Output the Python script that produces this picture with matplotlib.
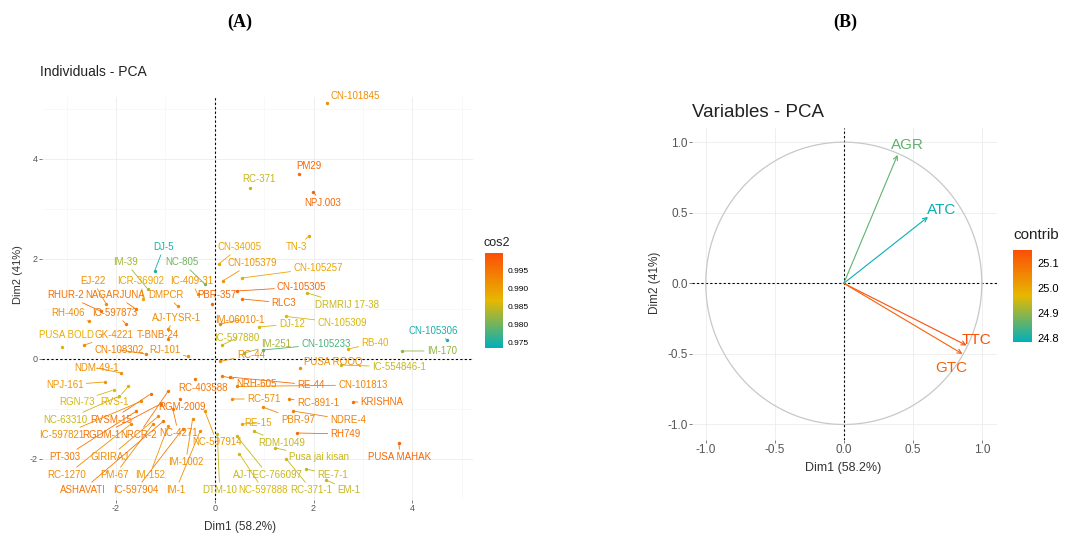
import numpy as np
import matplotlib
matplotlib.use("Agg")
import matplotlib.pyplot as plt
from matplotlib.colors import LinearSegmentedColormap, Normalize
import matplotlib.cm as cm

plt.rcParams["font.family"] = ["Liberation Sans", "DejaVu Sans"]
plt.rcParams["axes.unicode_minus"] = False

# -----------------------------
# Panel A data: genotype scores on Dim1 / Dim2 with cos2
# -----------------------------
geno = ["CN-101845", "PM29", "RC-371", "NPJ.003", "TN-3", "CN-34005", "DJ-5", "IM-39",
        "NC-805", "CN-105379", "CN-105257", "CN-105305", "RLC3", "DRMRIJ 17-38", "EJ-22",
        "ICR-36902", "IC-409-31", "RHUR-2", "NAGARJUNA", "DMPCR", "PBR-357", "RH-406",
        "IC-597873", "AJ-TYSR-1", "IM-06010-1", "DJ-12", "CN-105309", "PUSA BOLD", "GK-4221",
        "T-BNB-24", "IC-597880", "IM-251", "CN-105233", "RB-40", "CN-105306", "IM-170",
        "CN-108302", "RJ-101", "NDM-49-1", "RC-403588", "NPJ-161", "RGN-73", "RVS-1",
        "NC-63310", "RVSM-15", "RGM-2009", "IC-597821", "RGDM-1", "NRCR-2", "NC-4271",
        "NC-597914", "PT-303", "GIRIRAJ", "IM-1002", "RC-1270", "PM-67", "IM-152",
        "ASHAVATI", "IC-597904", "IM-1", "DTM-10", "NC-597888", "RC-371-1", "EM-1",
        "AJ-TEC-766097", "RE-7-1", "RC-44", "NRH-605", "RE-44", "CN-101813", "PUSA ROOQ",
        "IC-554846-1", "RC-571", "RC-891-1", "KRISHNA", "PBR-97", "NDRE-4", "RH749",
        "RE-15", "RDM-1049", "Pusa jai kisan", "PUSA MAHAK"]
dim1 = [2.27, 1.70, 0.71, 1.99, 1.91, 0.08, -1.22, -1.36,
        -0.20, 0.16, 0.55, 0.45, 0.55, 1.87, -2.20,
        -1.45, -0.35, -2.30, -1.60, -0.75, -0.05, -2.55,
        -1.80, -0.95, 0.10, 0.89, 1.45, -3.10, -2.64,
        -0.95, 0.15, 0.60, 0.97, 2.70, 4.71, 3.80,
        -1.40, -0.55, -1.90, -0.40, -2.23, -2.05, -1.75,
        -1.95, -1.30, -0.70, -1.50, -1.10, -0.95, -0.85,
        -0.20, -1.60, -1.15, -0.45, -1.70, -1.25, -0.95,
        -1.05, -0.65, -0.30, 0.05, 0.50, 1.45, 2.25,
        0.45, 1.85, 0.10, 0.14, 0.30, 0.45, 1.72,
        2.55, 0.35, 1.50, 2.80, 0.97, 1.58, 1.66,
        0.55, 0.80, 1.22, 3.73]
dim2 = [5.12, 3.70, 3.42, 3.34, 2.46, 1.90, 1.76, 1.40,
        1.50, 1.56, 1.62, 1.36, 1.20, 1.32, 1.10,
        1.20, 1.30, 0.95, 1.00, 1.05, 1.10, 0.75,
        0.70, 0.60, 0.70, 0.64, 0.85, 0.24, 0.28,
        0.40, 0.28, 0.12, 0.18, 0.20, 0.38, 0.16,
        0.10, 0.05, -0.28, -0.40, -0.46, -0.62, -0.55,
        -0.75, -0.70, -0.80, -0.85, -0.90, -0.65, -1.00,
        -1.05, -1.05, -1.15, -1.20, -1.30, -1.30, -1.35,
        -1.25, -1.40, -1.45, -1.50, -1.90, -2.00, -2.42,
        -1.55, -2.20, -0.05, -0.34, -0.36, -0.55, -0.18,
        -0.12, -0.80, -0.80, -0.86, -0.96, -1.04, -1.48,
        -1.30, -1.45, -1.78, -1.68]
cos2 = [0.992, 0.997, 0.985, 0.997, 0.989, 0.989, 0.975, 0.983,
        0.980, 0.991, 0.989, 0.997, 0.996, 0.985, 0.992,
        0.989, 0.991, 0.996, 0.995, 0.992, 0.997, 0.992,
        0.995, 0.992, 0.993, 0.986, 0.986, 0.988, 0.992,
        0.994, 0.985, 0.983, 0.978, 0.988, 0.975, 0.982,
        0.994, 0.992, 0.992, 0.995, 0.991, 0.986, 0.988,
        0.985, 0.996, 0.996, 0.992, 0.996, 0.995, 0.994,
        0.991, 0.995, 0.992, 0.992, 0.992, 0.992, 0.991,
        0.995, 0.994, 0.992, 0.985, 0.986, 0.985, 0.985,
        0.985, 0.985, 0.992, 0.995, 0.996, 0.993, 0.992,
        0.985, 0.992, 0.994, 0.996, 0.993, 0.994, 0.996,
        0.989, 0.985, 0.985, 0.997]

# repelled label positions (layout)
lab_x = [2.84, 1.91, 0.89, 2.19, 1.66, 0.51, -1.03, -1.81,
         -0.67, 0.75, 2.09, 1.76, 1.40, 2.68, -2.47,
         -1.50, -0.47, -3.02, -2.01, -0.98, 0.04, -2.98,
         -2.02, -0.77, 0.51, 1.56, 2.58, -3.00, -2.04,
         -1.15, 0.45, 1.24, 2.25, 3.25, 4.42, 4.60,
         -1.93, -1.01, -2.39, -0.24, -3.04, -2.80, -2.03,
         -3.03, -2.10, -0.67, -3.10, -2.30, -1.55, -0.74,
         0.04, -3.04, -2.13, -0.59, -3.00, -2.03, -1.32,
         -2.68, -1.60, -0.79, 0.10, 0.98, 1.96, 2.72,
         1.08, 2.39, 0.73, 0.85, 1.95, 3.00, 2.40,
         3.73, 0.99, 2.09, 3.39, 1.68, 2.70, 2.65,
         0.87, 1.36, 2.11, 3.75]
lab_y = [5.26, 3.86, 3.60, 3.12, 2.24, 2.24, 2.24, 1.94,
         1.94, 1.92, 1.82, 1.44, 1.12, 1.08, 1.56,
         1.56, 1.56, 1.28, 1.28, 1.28, 1.28, 0.92,
         0.92, 0.82, 0.78, 0.70, 0.72, 0.48, 0.48,
         0.48, 0.42, 0.30, 0.30, 0.32, 0.56, 0.16,
         0.18, 0.18, -0.18, -0.58, -0.52, -0.86, -0.86,
         -1.22, -1.22, -0.96, -1.52, -1.52, -1.52, -1.48,
         -1.66, -1.96, -1.96, -2.06, -2.32, -2.32, -2.32,
         -2.62, -2.62, -2.62, -2.62, -2.62, -2.62, -2.62,
         -2.32, -2.32, 0.08, -0.50, -0.52, -0.52, -0.06,
         -0.16, -0.80, -0.88, -0.86, -1.22, -1.22, -1.50,
         -1.28, -1.68, -1.96, -1.96]

# -----------------------------
# Panel B data: variable loadings with contrib
# -----------------------------
variables = ["AGR", "ATC", "TTC", "GTC"]
load1 = [0.39, 0.61, 0.89, 0.86]
load2 = [0.91, 0.47, -0.44, -0.50]
contrib = [24.86, 24.79, 25.15, 25.12]
var_lab_x = [0.46, 0.71, 0.96, 0.78]
var_lab_y = [0.98, 0.52, -0.40, -0.60]

grad = LinearSegmentedColormap.from_list("fvz", ["#00AFBB", "#E7B800", "#FC4E07"])

fig = plt.figure(figsize=(10.89, 5.37), dpi=100)


def style_ax(ax, size):
    for s in ax.spines.values():
        s.set_visible(False)
    ax.tick_params(length=2, width=0.6, color="#666666", labelsize=size,
                   labelcolor="#555555", pad=1)
    ax.grid(True, which="major", color="#ececec", lw=0.6)
    ax.set_axisbelow(True)


# -----------------------------
# (A) Individuals - PCA
# -----------------------------
axA = fig.add_axes([0.0386, 0.0689, 0.3957, 0.7505])
axA.set_xlim(-3.5, 5.23)
axA.set_ylim(-2.82, 5.24)
axA.set_xticks([-2, 0, 2, 4])
axA.set_yticks([-2, 0, 2, 4])
axA.set_xticks([-3, -1, 1, 3, 5], minor=True)
axA.set_yticks([-1, 1, 3, 5], minor=True)
axA.tick_params(which="minor", length=0)
style_ax(axA, 6.5)
axA.grid(True, which="minor", color="#f4f4f4", lw=0.4)
axA.axhline(0, color="black", ls=(0, (2, 2)), lw=0.8, zorder=2)
axA.axvline(0, color="black", ls=(0, (2, 2)), lw=0.8, zorder=2)

normA = Normalize(0.9736, 1.0)
for i, name in enumerate(geno):
    c = grad(normA(cos2[i]))
    axA.scatter(dim1[i], dim2[i], s=6, color=c, lw=0, zorder=3)
    dx = (lab_x[i] - dim1[i]) * 49.3
    dy = (lab_y[i] - dim2[i]) * 50
    props = None
    if np.hypot(dx, dy) > 14:
        props = dict(arrowstyle="-", color=c, lw=0.6, shrinkA=0, shrinkB=1)
    axA.annotate(name, (dim1[i], dim2[i]), xytext=(lab_x[i], lab_y[i]),
                 textcoords="data", ha="center", va="center", fontsize=7,
                 color=c, arrowprops=props, zorder=4)

fig.text(0.0367, 0.866, "Individuals - PCA", fontsize=10, color="#222222", va="center")
fig.text(0.2204, 0.959, "(A)", fontsize=13, fontweight="bold", family="Liberation Serif",
         ha="center", va="center")
fig.text(0.2204, 0.0186, "Dim1 (58.2%)", fontsize=8.5, ha="center", va="center",
         color="#333333")
fig.text(0.0165, 0.488, "Dim2 (41%)", fontsize=8, rotation=90, ha="center", va="center",
         color="#333333")

caxA = fig.add_axes([0.4454, 0.352, 0.0165, 0.177])
cbA = fig.colorbar(cm.ScalarMappable(norm=normA, cmap=grad), cax=caxA)
cbA.set_ticks([0.975, 0.980, 0.985, 0.990, 0.995])
cbA.ax.set_yticklabels(["0.975", "0.980", "0.985", "0.990", "0.995"])
cbA.outline.set_visible(False)
cbA.ax.tick_params(length=2, color="white", labelsize=6, pad=1)
fig.text(0.4436, 0.547, "cos2", fontsize=9, va="center", color="#222222")

# -----------------------------
# (B) Variables - PCA
# -----------------------------
axB = fig.add_axes([0.6354, 0.1806, 0.2801, 0.581])
axB.set_xlim(-1.10, 1.11)
axB.set_ylim(-1.11, 1.10)
axB.set_xticks([-1.0, -0.5, 0.0, 0.5, 1.0])
axB.set_yticks([-1.0, -0.5, 0.0, 0.5, 1.0])
axB.set_xticklabels(["-1.0", "-0.5", "0.0", "0.5", "1.0"])
axB.set_yticklabels(["-1.0", "-0.5", "0.0", "0.5", "1.0"])
style_ax(axB, 8.5)
axB.axhline(0, color="black", ls=(0, (2, 2)), lw=0.8, zorder=2)
axB.axvline(0, color="black", ls=(0, (2, 2)), lw=0.8, zorder=2)
t = np.linspace(0, 2 * np.pi, 300)
axB.plot(np.cos(t), np.sin(t), color="#c8c8c8", lw=0.9, zorder=2)

normB = Normalize(24.784, 25.152)
for i, v in enumerate(variables):
    c = grad(normB(contrib[i]))
    axB.annotate("", xy=(load1[i], load2[i]), xytext=(0, 0),
                 arrowprops=dict(arrowstyle="->,head_length=0.3,head_width=0.15",
                                 color=c, lw=0.8, shrinkA=0, shrinkB=0), zorder=3)
    axB.text(var_lab_x[i], var_lab_y[i], v, color=c, fontsize=11,
             ha="center", va="center", zorder=4)

fig.text(0.6354, 0.7896, "Variables - PCA", fontsize=13.5, color="#222222", va="center")
fig.text(0.776, 0.959, "(B)", fontsize=13, fontweight="bold", family="Liberation Serif",
         ha="center", va="center")
fig.text(0.774, 0.1285, "Dim1 (58.2%)", fontsize=9, ha="center", va="center",
         color="#333333")
fig.text(0.6015, 0.473, "Dim2 (41%)", fontsize=8.5, rotation=90, ha="center",
         va="center", color="#333333")

caxB = fig.add_axes([0.9302, 0.3631, 0.01745, 0.1713])
cbB = fig.colorbar(cm.ScalarMappable(norm=normB, cmap=grad), cax=caxB)
cbB.set_ticks([24.8, 24.9, 25.0, 25.1])
cbB.outline.set_visible(False)
cbB.ax.tick_params(length=2, color="white", labelsize=8, pad=2)
fig.text(0.9302, 0.5624, "contrib", fontsize=11, va="center", color="#222222")

fig.savefig("out.png", dpi=100)
